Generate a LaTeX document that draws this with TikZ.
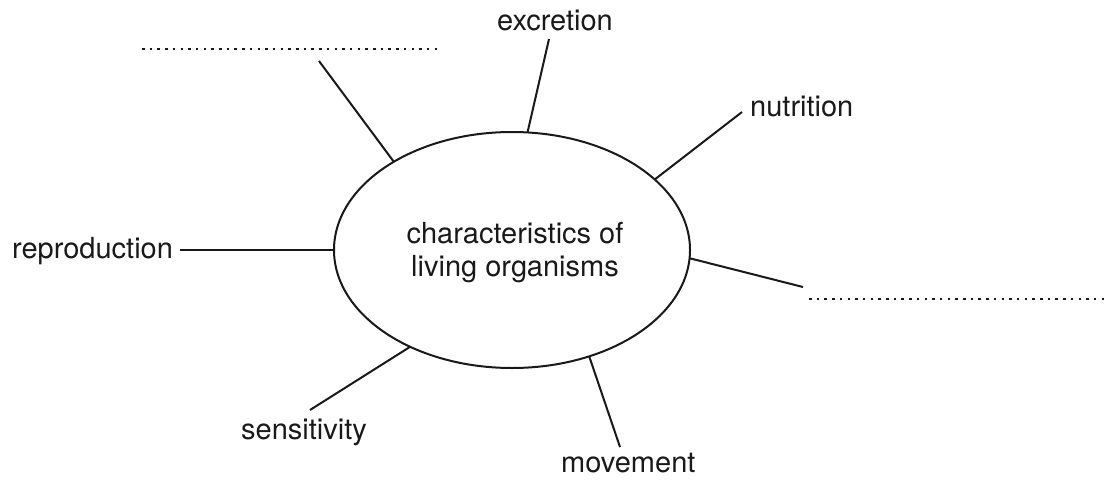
\documentclass[tikz,border=0pt]{standalone}
\usepackage{fontspec}
\setmainfont{TeX Gyre Heros}
\usetikzlibrary{shapes.geometric}
\begin{document}
\begin{tikzpicture}[x=1pt,y=1pt,
  lbl/.style={inner sep=0pt,font=\fontsize{29}{33}\selectfont,text=black!90},
  link/.style={line width=2pt,draw=black!90},
  blank/.style={line width=2.5pt,draw=black!90,dash pattern=on 2.5pt off 5.2pt}]
\useasboundingbox (0,0) rectangle (1105,-479);
\node[ellipse,draw=black!90,line width=2pt,minimum width=356,minimum height=236,inner sep=0pt] (e) at (512,-250) {};
\node[lbl,align=center] (t) at (515,-253) {characteristics of\\living organisms};
% border points
\path (e.center) ++(131.6:178 and 118) coordinate (p1);
\path (e.center) ++(85:178 and 118) coordinate (p2);
\path (e.center) ++(36.7:178 and 118) coordinate (p3);
\path (e.center) ++(-4:178 and 118) coordinate (p4);
\path (e.center) ++(180:178 and 118) coordinate (p5);
\path (e.center) ++(235.1:178 and 118) coordinate (p6);
\path (e.center) ++(-64.3:178 and 118) coordinate (p7);
% labels
\node[lbl,anchor=base west] (exc) at (497,-30) {excretion};
\node[lbl,anchor=base west] (nut) at (750,-116) {nutrition};
\node[lbl,anchor=base west] (rep) at (12,-258) {reproduction};
\node[lbl,anchor=base west] (sen) at (241,-439) {sensitivity};
\node[lbl,anchor=base west] (mov) at (561,-472) {movement};
% free ends
\coordinate (q1) at (319,-61);
\coordinate (q2) at (549,-39);
\coordinate (q3) at (742,-112);
\coordinate (q4) at (803,-287);
\coordinate (q5) at (180,-250);
\coordinate (q6) at (310,-410);
\coordinate (q7) at (620,-447);
\draw[link] (q1) -- (p1);
\draw[link] (q2) -- (p2);
\draw[link] (q3) -- (p3);
\draw[link] (q4) -- (p4);
\draw[link] (q5) -- (p5);
\draw[link] (q6) -- (p6);
\draw[link] (q7) -- (p7);
% answer blanks
\coordinate (b1s) at (142,-49);
\coordinate (b1e) at (440,-49);
\coordinate (b2s) at (809,-299);
\coordinate (b2e) at (1105,-299);
\draw[blank] (b1s) -- (b1e);
\draw[blank] (b2s) -- (b2e);
\end{tikzpicture}
\end{document}
